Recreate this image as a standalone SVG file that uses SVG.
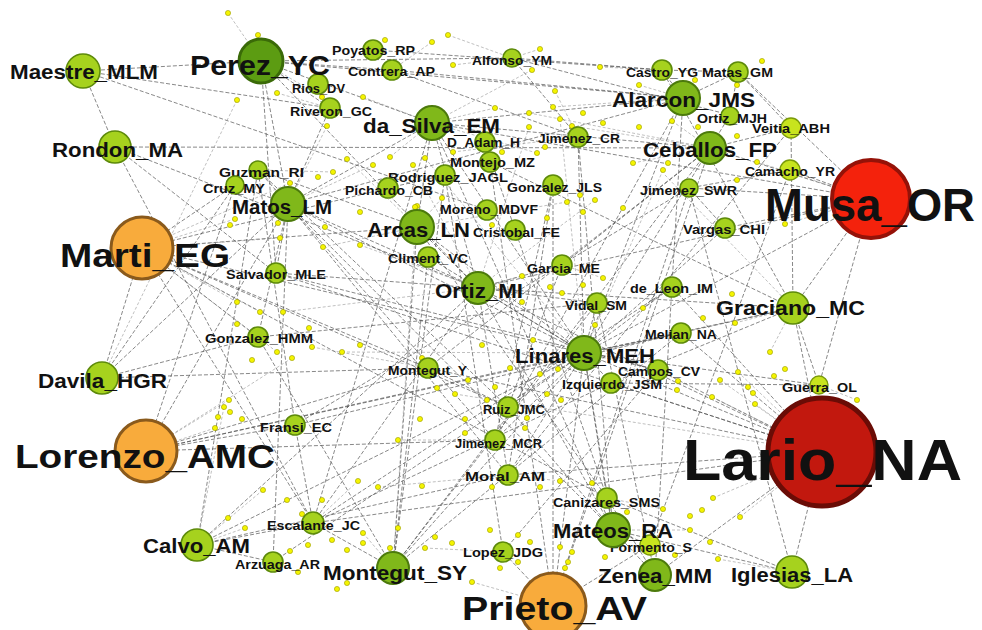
<svg xmlns="http://www.w3.org/2000/svg" width="982" height="630" viewBox="0 0 982 630">
<style>
.e{stroke:#555;stroke-width:0.7;stroke-dasharray:4 2;fill:none}
.f{stroke:#808080;stroke-width:0.5;stroke-dasharray:3 2;fill:none}
.d{fill:#f4f400;stroke:#9a9a00;stroke-width:0.6}
.n1{fill:#a6d21e;stroke:#5d8a0a;stroke-width:1.6}
.n2{fill:#80b81a;stroke:#4c7a0c;stroke-width:2}
.n3{fill:#5c9c12;stroke:#3a6a08;stroke-width:3}
.n4{fill:#c8e41e;stroke:#7a9a0a;stroke-width:1.4}
.o{fill:#f8ab3c;stroke:#8a5a1c;stroke-width:3}
.mu{fill:#f4220c;stroke:#951208;stroke-width:4}
.la{fill:#c2180e;stroke:#6a0c06;stroke-width:5}
text{font-family:"Liberation Sans",Arial,sans-serif;font-weight:bold;fill:#111}
.s{font-size:13px}.m{font-size:20px}.l{font-size:33px}
</style>
<rect width="982" height="630" fill="#fff"/>
<g id="connectors">
<line class="e" x1="83" y1="71" x2="261" y2="61"/>
<line class="e" x1="83" y1="71" x2="115" y2="147"/>
<line class="e" x1="83" y1="71" x2="487" y2="210"/>
<line class="e" x1="115" y1="147" x2="710" y2="148"/>
<line class="e" x1="115" y1="147" x2="313" y2="523"/>
<line class="e" x1="115" y1="147" x2="478" y2="288"/>
<line class="e" x1="115" y1="147" x2="276" y2="273"/>
<line class="e" x1="142" y1="248" x2="102" y2="378"/>
<line class="e" x1="142" y1="248" x2="235" y2="185"/>
<line class="e" x1="142" y1="248" x2="417" y2="227"/>
<line class="e" x1="142" y1="248" x2="584" y2="353"/>
<line class="e" x1="142" y1="248" x2="428" y2="368"/>
<line class="e" x1="142" y1="248" x2="508" y2="407"/>
<line class="e" x1="142" y1="248" x2="313" y2="523"/>
<line class="e" x1="142" y1="248" x2="607" y2="498"/>
<line class="e" x1="142" y1="248" x2="388" y2="188"/>
<line class="e" x1="142" y1="248" x2="258" y2="337"/>
<line class="e" x1="102" y1="378" x2="258" y2="337"/>
<line class="e" x1="102" y1="378" x2="235" y2="185"/>
<line class="e" x1="102" y1="378" x2="288" y2="204"/>
<line class="e" x1="146" y1="451" x2="295" y2="425"/>
<line class="e" x1="146" y1="451" x2="495" y2="440"/>
<line class="e" x1="146" y1="451" x2="428" y2="368"/>
<line class="e" x1="146" y1="451" x2="584" y2="353"/>
<line class="e" x1="146" y1="451" x2="288" y2="204"/>
<line class="e" x1="146" y1="451" x2="793" y2="308"/>
<line class="e" x1="197" y1="545" x2="258" y2="170"/>
<line class="e" x1="197" y1="545" x2="313" y2="523"/>
<line class="e" x1="197" y1="545" x2="584" y2="353"/>
<line class="e" x1="197" y1="545" x2="508" y2="475"/>
<line class="e" x1="273" y1="562" x2="288" y2="204"/>
<line class="e" x1="273" y1="562" x2="584" y2="353"/>
<line class="e" x1="313" y1="523" x2="478" y2="288"/>
<line class="e" x1="313" y1="523" x2="432" y2="123"/>
<line class="e" x1="393" y1="568" x2="584" y2="353"/>
<line class="e" x1="393" y1="568" x2="428" y2="257"/>
<line class="e" x1="393" y1="568" x2="445" y2="175"/>
<line class="e" x1="393" y1="568" x2="710" y2="148"/>
<line class="e" x1="393" y1="568" x2="258" y2="337"/>
<line class="e" x1="553" y1="605" x2="584" y2="353"/>
<line class="e" x1="553" y1="605" x2="710" y2="148"/>
<line class="e" x1="553" y1="605" x2="490" y2="162"/>
<line class="e" x1="553" y1="605" x2="553" y2="185"/>
<line class="e" x1="553" y1="605" x2="689" y2="188"/>
<line class="e" x1="553" y1="605" x2="650" y2="545"/>
<line class="e" x1="553" y1="605" x2="503" y2="552"/>
<line class="e" x1="655" y1="575" x2="822" y2="452"/>
<line class="e" x1="655" y1="575" x2="683" y2="98"/>
<line class="e" x1="655" y1="575" x2="607" y2="498"/>
<line class="e" x1="792" y1="572" x2="822" y2="452"/>
<line class="e" x1="792" y1="572" x2="613" y2="530"/>
<line class="e" x1="792" y1="572" x2="689" y2="188"/>
<line class="e" x1="822" y1="452" x2="584" y2="353"/>
<line class="e" x1="822" y1="452" x2="611" y2="383"/>
<line class="e" x1="822" y1="452" x2="508" y2="475"/>
<line class="e" x1="822" y1="452" x2="428" y2="368"/>
<line class="e" x1="822" y1="452" x2="478" y2="288"/>
<line class="e" x1="822" y1="452" x2="793" y2="308"/>
<line class="e" x1="822" y1="452" x2="313" y2="523"/>
<line class="e" x1="822" y1="452" x2="276" y2="273"/>
<line class="e" x1="822" y1="452" x2="672" y2="287"/>
<line class="e" x1="822" y1="452" x2="658" y2="370"/>
<line class="e" x1="822" y1="452" x2="681" y2="333"/>
<line class="e" x1="871" y1="199" x2="738" y2="72"/>
<line class="e" x1="871" y1="199" x2="790" y2="170"/>
<line class="e" x1="871" y1="199" x2="793" y2="308"/>
<line class="e" x1="871" y1="199" x2="819" y2="385"/>
<line class="e" x1="871" y1="199" x2="710" y2="148"/>
<line class="e" x1="871" y1="199" x2="725" y2="228"/>
<line class="e" x1="871" y1="199" x2="478" y2="288"/>
<line class="e" x1="871" y1="199" x2="584" y2="353"/>
<line class="e" x1="871" y1="199" x2="689" y2="188"/>
<line class="e" x1="793" y1="308" x2="478" y2="288"/>
<line class="e" x1="793" y1="308" x2="791" y2="128"/>
<line class="e" x1="793" y1="308" x2="662" y2="70"/>
<line class="e" x1="793" y1="308" x2="819" y2="385"/>
<line class="e" x1="793" y1="308" x2="490" y2="162"/>
<line class="e" x1="793" y1="308" x2="584" y2="353"/>
<line class="e" x1="793" y1="308" x2="611" y2="383"/>
<line class="e" x1="710" y1="148" x2="791" y2="128"/>
<line class="e" x1="710" y1="148" x2="730" y2="115"/>
<line class="e" x1="710" y1="148" x2="584" y2="353"/>
<line class="e" x1="710" y1="148" x2="562" y2="265"/>
<line class="e" x1="710" y1="148" x2="432" y2="123"/>
<line class="e" x1="683" y1="98" x2="432" y2="123"/>
<line class="e" x1="683" y1="98" x2="584" y2="353"/>
<line class="e" x1="683" y1="98" x2="662" y2="70"/>
<line class="e" x1="683" y1="98" x2="738" y2="72"/>
<line class="e" x1="683" y1="98" x2="288" y2="204"/>
<line class="e" x1="261" y1="61" x2="432" y2="123"/>
<line class="e" x1="261" y1="61" x2="392" y2="70"/>
<line class="e" x1="261" y1="61" x2="330" y2="108"/>
<line class="e" x1="261" y1="61" x2="683" y2="98"/>
<line class="e" x1="261" y1="61" x2="288" y2="204"/>
<line class="e" x1="261" y1="61" x2="478" y2="288"/>
<line class="e" x1="261" y1="61" x2="276" y2="273"/>
<line class="e" x1="261" y1="61" x2="512" y2="58"/>
<line class="e" x1="432" y1="123" x2="478" y2="288"/>
<line class="e" x1="432" y1="123" x2="584" y2="353"/>
<line class="e" x1="432" y1="123" x2="417" y2="227"/>
<line class="e" x1="432" y1="123" x2="288" y2="204"/>
<line class="e" x1="417" y1="227" x2="478" y2="288"/>
<line class="e" x1="417" y1="227" x2="584" y2="353"/>
<line class="e" x1="417" y1="227" x2="393" y2="568"/>
<line class="e" x1="417" y1="227" x2="258" y2="170"/>
<line class="e" x1="417" y1="227" x2="607" y2="498"/>
<line class="e" x1="478" y1="288" x2="584" y2="353"/>
<line class="e" x1="478" y1="288" x2="613" y2="530"/>
<line class="e" x1="478" y1="288" x2="508" y2="475"/>
<line class="e" x1="478" y1="288" x2="597" y2="303"/>
<line class="e" x1="478" y1="288" x2="562" y2="265"/>
<line class="e" x1="478" y1="288" x2="288" y2="204"/>
<line class="e" x1="478" y1="288" x2="197" y2="545"/>
<line class="e" x1="584" y1="353" x2="613" y2="530"/>
<line class="e" x1="584" y1="353" x2="508" y2="475"/>
<line class="e" x1="584" y1="353" x2="658" y2="370"/>
<line class="e" x1="584" y1="353" x2="611" y2="383"/>
<line class="e" x1="584" y1="353" x2="597" y2="303"/>
<line class="e" x1="584" y1="353" x2="681" y2="333"/>
<line class="e" x1="584" y1="353" x2="672" y2="287"/>
<line class="e" x1="584" y1="353" x2="495" y2="440"/>
<line class="e" x1="584" y1="353" x2="508" y2="407"/>
<line class="e" x1="584" y1="353" x2="288" y2="204"/>
<line class="e" x1="584" y1="353" x2="725" y2="228"/>
<line class="e" x1="613" y1="530" x2="607" y2="498"/>
<line class="e" x1="613" y1="530" x2="650" y2="545"/>
<line class="e" x1="613" y1="530" x2="655" y2="575"/>
<line class="e" x1="613" y1="530" x2="288" y2="204"/>
<line class="e" x1="613" y1="530" x2="432" y2="123"/>
<line class="e" x1="613" y1="530" x2="508" y2="407"/>
<line class="e" x1="613" y1="530" x2="578" y2="137"/>
<line class="e" x1="288" y1="204" x2="276" y2="273"/>
<line class="e" x1="288" y1="204" x2="258" y2="337"/>
<line class="e" x1="288" y1="204" x2="235" y2="185"/>
<line class="e" x1="288" y1="204" x2="258" y2="170"/>
<line class="e" x1="288" y1="204" x2="495" y2="440"/>
<line class="e" x1="288" y1="204" x2="508" y2="475"/>
<line class="e" x1="288" y1="204" x2="330" y2="108"/>
<line class="e" x1="662" y1="70" x2="738" y2="72"/>
<line class="e" x1="662" y1="70" x2="512" y2="58"/>
<line class="e" x1="662" y1="70" x2="373" y2="50"/>
<line class="e" x1="392" y1="70" x2="683" y2="98"/>
<line class="e" x1="392" y1="70" x2="578" y2="137"/>
<line class="e" x1="512" y1="58" x2="578" y2="137"/>
<line class="e" x1="512" y1="58" x2="730" y2="115"/>
<line class="e" x1="578" y1="137" x2="584" y2="353"/>
<line class="e" x1="553" y1="185" x2="508" y2="475"/>
<line class="e" x1="553" y1="185" x2="495" y2="440"/>
<line class="e" x1="562" y1="265" x2="508" y2="407"/>
<line class="e" x1="597" y1="303" x2="393" y2="568"/>
<line class="e" x1="672" y1="287" x2="313" y2="523"/>
<line class="e" x1="681" y1="333" x2="295" y2="425"/>
<line class="e" x1="658" y1="370" x2="503" y2="552"/>
<line class="e" x1="611" y1="383" x2="313" y2="523"/>
<line class="e" x1="428" y1="368" x2="710" y2="148"/>
<line class="e" x1="295" y1="425" x2="689" y2="188"/>
<line class="e" x1="258" y1="337" x2="597" y2="303"/>
<line class="e" x1="276" y1="273" x2="658" y2="370"/>
<line class="e" x1="508" y1="407" x2="258" y2="170"/>
<line class="e" x1="495" y1="440" x2="683" y2="98"/>
<line class="e" x1="508" y1="475" x2="791" y2="128"/>
<line class="e" x1="503" y1="552" x2="445" y2="175"/>
<line class="e" x1="607" y1="498" x2="485" y2="142"/>
<line class="e" x1="650" y1="545" x2="790" y2="170"/>
<line class="e" x1="655" y1="575" x2="597" y2="303"/>
<line class="e" x1="393" y1="568" x2="681" y2="333"/>
<line class="e" x1="102" y1="378" x2="428" y2="368"/>
<line class="e" x1="146" y1="451" x2="235" y2="185"/>
<line class="e" x1="197" y1="545" x2="273" y2="562"/>
<line class="e" x1="393" y1="568" x2="313" y2="523"/>
<line class="e" x1="689" y1="188" x2="725" y2="228"/>
<line class="e" x1="790" y1="170" x2="689" y2="188"/>
<line class="e" x1="791" y1="128" x2="738" y2="72"/>
<line class="e" x1="730" y1="115" x2="738" y2="72"/>
<line class="e" x1="83" y1="71" x2="330" y2="108"/>
<line class="e" x1="871" y1="199" x2="432" y2="123"/>
<line class="e" x1="819" y1="385" x2="584" y2="353"/>
<line class="e" x1="819" y1="385" x2="611" y2="383"/>
<line class="e" x1="792" y1="572" x2="607" y2="498"/>
<line class="e" x1="607" y1="498" x2="584" y2="353"/>
<line class="e" x1="428" y1="368" x2="508" y2="407"/>
<line class="e" x1="295" y1="425" x2="313" y2="523"/>
<line class="e" x1="295" y1="425" x2="258" y2="170"/>
<line class="e" x1="276" y1="273" x2="478" y2="288"/>
<line class="e" x1="428" y1="257" x2="584" y2="353"/>
<line class="e" x1="445" y1="175" x2="388" y2="188"/>
<line class="f" x1="228" y1="13" x2="261" y2="61"/>
<line class="f" x1="258" y1="35" x2="261" y2="61"/>
<line class="f" x1="237" y1="100" x2="102" y2="378"/>
<line class="f" x1="432" y1="42" x2="392" y2="70"/>
<line class="f" x1="448" y1="35" x2="512" y2="58"/>
<line class="f" x1="453" y1="65" x2="512" y2="58"/>
<line class="f" x1="277" y1="93" x2="330" y2="108"/>
<line class="f" x1="322" y1="97" x2="261" y2="61"/>
<line class="f" x1="363" y1="97" x2="432" y2="123"/>
<line class="f" x1="327" y1="126" x2="288" y2="204"/>
<line class="f" x1="347" y1="159" x2="417" y2="227"/>
<line class="f" x1="390" y1="157" x2="432" y2="123"/>
<line class="f" x1="373" y1="165" x2="288" y2="204"/>
<line class="f" x1="425" y1="158" x2="584" y2="353"/>
<line class="f" x1="413" y1="165" x2="478" y2="288"/>
<line class="f" x1="453" y1="152" x2="578" y2="137"/>
<line class="f" x1="333" y1="172" x2="258" y2="170"/>
<line class="f" x1="290" y1="183" x2="142" y2="248"/>
<line class="f" x1="442" y1="198" x2="417" y2="227"/>
<line class="f" x1="417" y1="206" x2="393" y2="568"/>
<line class="f" x1="540" y1="49" x2="512" y2="58"/>
<line class="f" x1="532" y1="70" x2="432" y2="123"/>
<line class="f" x1="600" y1="67" x2="662" y2="70"/>
<line class="f" x1="639" y1="85" x2="683" y2="98"/>
<line class="f" x1="555" y1="91" x2="578" y2="137"/>
<line class="f" x1="553" y1="107" x2="683" y2="98"/>
<line class="f" x1="529" y1="113" x2="710" y2="148"/>
<line class="f" x1="495" y1="108" x2="432" y2="123"/>
<line class="f" x1="560" y1="119" x2="584" y2="353"/>
<line class="f" x1="529" y1="127" x2="478" y2="288"/>
<line class="f" x1="572" y1="126" x2="710" y2="148"/>
<line class="f" x1="672" y1="121" x2="710" y2="148"/>
<line class="f" x1="537" y1="153" x2="432" y2="123"/>
<line class="f" x1="633" y1="163" x2="710" y2="148"/>
<line class="f" x1="663" y1="170" x2="584" y2="353"/>
<line class="f" x1="665" y1="175" x2="793" y2="308"/>
<line class="f" x1="595" y1="200" x2="478" y2="288"/>
<line class="f" x1="567" y1="202" x2="417" y2="227"/>
<line class="f" x1="757" y1="162" x2="871" y2="199"/>
<line class="f" x1="737" y1="180" x2="790" y2="170"/>
<line class="f" x1="235" y1="219" x2="142" y2="248"/>
<line class="f" x1="237" y1="302" x2="142" y2="248"/>
<line class="f" x1="229" y1="400" x2="146" y2="451"/>
<line class="f" x1="224" y1="407" x2="197" y2="545"/>
<line class="f" x1="280" y1="238" x2="142" y2="248"/>
<line class="f" x1="323" y1="247" x2="417" y2="227"/>
<line class="f" x1="360" y1="245" x2="478" y2="288"/>
<line class="f" x1="260" y1="312" x2="142" y2="248"/>
<line class="f" x1="283" y1="312" x2="478" y2="288"/>
<line class="f" x1="312" y1="347" x2="428" y2="368"/>
<line class="f" x1="342" y1="352" x2="584" y2="353"/>
<line class="f" x1="277" y1="352" x2="142" y2="248"/>
<line class="f" x1="292" y1="358" x2="146" y2="451"/>
<line class="f" x1="455" y1="394" x2="822" y2="452"/>
<line class="f" x1="522" y1="276" x2="478" y2="288"/>
<line class="f" x1="603" y1="278" x2="562" y2="265"/>
<line class="f" x1="643" y1="308" x2="672" y2="287"/>
<line class="f" x1="735" y1="323" x2="793" y2="308"/>
<line class="f" x1="540" y1="374" x2="584" y2="353"/>
<line class="f" x1="720" y1="380" x2="822" y2="452"/>
<line class="f" x1="712" y1="397" x2="822" y2="452"/>
<line class="f" x1="785" y1="224" x2="871" y2="199"/>
<line class="f" x1="770" y1="352" x2="793" y2="308"/>
<line class="f" x1="738" y1="372" x2="822" y2="452"/>
<line class="f" x1="755" y1="404" x2="822" y2="452"/>
<line class="f" x1="857" y1="400" x2="819" y2="385"/>
<line class="f" x1="215" y1="428" x2="146" y2="451"/>
<line class="f" x1="245" y1="528" x2="197" y2="545"/>
<line class="f" x1="398" y1="440" x2="495" y2="440"/>
<line class="f" x1="358" y1="481" x2="313" y2="523"/>
<line class="f" x1="378" y1="487" x2="508" y2="475"/>
<line class="f" x1="263" y1="490" x2="197" y2="545"/>
<line class="f" x1="363" y1="533" x2="393" y2="568"/>
<line class="f" x1="425" y1="548" x2="503" y2="552"/>
<line class="f" x1="472" y1="582" x2="553" y2="605"/>
<line class="f" x1="560" y1="481" x2="508" y2="475"/>
<line class="f" x1="663" y1="509" x2="607" y2="498"/>
<line class="f" x1="713" y1="498" x2="822" y2="452"/>
<line class="f" x1="690" y1="530" x2="613" y2="530"/>
<line class="f" x1="718" y1="559" x2="792" y2="572"/>
<line class="f" x1="740" y1="517" x2="822" y2="452"/>
</g>
<g id="minor-nodes">
<circle class="d" cx="228" cy="13" r="2.6"/><circle class="d" cx="237" cy="100" r="2.6"/><circle class="d" cx="258" cy="35" r="2.6"/><circle class="d" cx="385" cy="40" r="2.6"/><circle class="d" cx="432" cy="42" r="2.6"/><circle class="d" cx="448" cy="35" r="2.6"/><circle class="d" cx="453" cy="65" r="2.6"/><circle class="d" cx="277" cy="93" r="2.6"/><circle class="d" cx="322" cy="97" r="2.6"/><circle class="d" cx="363" cy="97" r="2.6"/><circle class="d" cx="327" cy="126" r="2.6"/><circle class="d" cx="347" cy="159" r="2.6"/><circle class="d" cx="390" cy="157" r="2.6"/><circle class="d" cx="373" cy="165" r="2.6"/><circle class="d" cx="425" cy="158" r="2.6"/><circle class="d" cx="413" cy="165" r="2.6"/><circle class="d" cx="453" cy="152" r="2.6"/><circle class="d" cx="333" cy="172" r="2.6"/><circle class="d" cx="318" cy="177" r="2.6"/><circle class="d" cx="290" cy="183" r="2.6"/><circle class="d" cx="442" cy="198" r="2.6"/><circle class="d" cx="417" cy="206" r="2.6"/>
<circle class="d" cx="540" cy="49" r="2.6"/><circle class="d" cx="532" cy="70" r="2.6"/><circle class="d" cx="600" cy="67" r="2.6"/><circle class="d" cx="639" cy="85" r="2.6"/><circle class="d" cx="555" cy="91" r="2.6"/><circle class="d" cx="553" cy="107" r="2.6"/><circle class="d" cx="583" cy="113" r="2.6"/><circle class="d" cx="529" cy="113" r="2.6"/><circle class="d" cx="495" cy="108" r="2.6"/><circle class="d" cx="560" cy="119" r="2.6"/><circle class="d" cx="603" cy="123" r="2.6"/><circle class="d" cx="529" cy="127" r="2.6"/><circle class="d" cx="572" cy="126" r="2.6"/><circle class="d" cx="639" cy="127" r="2.6"/><circle class="d" cx="672" cy="121" r="2.6"/><circle class="d" cx="698" cy="127" r="2.6"/><circle class="d" cx="545" cy="147" r="2.6"/><circle class="d" cx="537" cy="153" r="2.6"/><circle class="d" cx="502" cy="152" r="2.6"/><circle class="d" cx="633" cy="163" r="2.6"/><circle class="d" cx="668" cy="163" r="2.6"/><circle class="d" cx="663" cy="170" r="2.6"/><circle class="d" cx="695" cy="80" r="2.6"/><circle class="d" cx="737" cy="85" r="2.6"/><circle class="d" cx="580" cy="195" r="2.6"/><circle class="d" cx="595" cy="200" r="2.6"/><circle class="d" cx="567" cy="202" r="2.6"/>
<circle class="d" cx="762" cy="61" r="2.6"/><circle class="d" cx="737" cy="136" r="2.6"/><circle class="d" cx="757" cy="162" r="2.6"/><circle class="d" cx="737" cy="180" r="2.6"/>
<circle class="d" cx="235" cy="219" r="2.6"/><circle class="d" cx="230" cy="225" r="2.6"/><circle class="d" cx="237" cy="302" r="2.6"/><circle class="d" cx="237" cy="324" r="2.6"/><circle class="d" cx="229" cy="400" r="2.6"/><circle class="d" cx="224" cy="407" r="2.6"/><circle class="d" cx="230" cy="412" r="2.6"/>
<circle class="d" cx="278" cy="223" r="2.6"/><circle class="d" cx="280" cy="238" r="2.6"/><circle class="d" cx="325" cy="227" r="2.6"/><circle class="d" cx="323" cy="247" r="2.6"/><circle class="d" cx="360" cy="245" r="2.6"/><circle class="d" cx="360" cy="212" r="2.6"/><circle class="d" cx="415" cy="207" r="2.6"/><circle class="d" cx="260" cy="312" r="2.6"/><circle class="d" cx="283" cy="312" r="2.6"/><circle class="d" cx="309" cy="328" r="2.6"/><circle class="d" cx="312" cy="347" r="2.6"/><circle class="d" cx="342" cy="352" r="2.6"/><circle class="d" cx="360" cy="345" r="2.6"/><circle class="d" cx="277" cy="352" r="2.6"/><circle class="d" cx="292" cy="358" r="2.6"/><circle class="d" cx="252" cy="360" r="2.6"/><circle class="d" cx="422" cy="358" r="2.6"/><circle class="d" cx="468" cy="380" r="2.6"/><circle class="d" cx="437" cy="388" r="2.6"/><circle class="d" cx="455" cy="394" r="2.6"/><circle class="d" cx="487" cy="400" r="2.6"/><circle class="d" cx="482" cy="345" r="2.6"/><circle class="d" cx="492" cy="225" r="2.6"/>
<circle class="d" cx="583" cy="212" r="2.6"/><circle class="d" cx="623" cy="208" r="2.6"/><circle class="d" cx="547" cy="218" r="2.6"/><circle class="d" cx="522" cy="276" r="2.6"/><circle class="d" cx="603" cy="278" r="2.6"/><circle class="d" cx="583" cy="285" r="2.6"/><circle class="d" cx="550" cy="287" r="2.6"/><circle class="d" cx="562" cy="293" r="2.6"/><circle class="d" cx="522" cy="302" r="2.6"/><circle class="d" cx="643" cy="308" r="2.6"/><circle class="d" cx="595" cy="325" r="2.6"/><circle class="d" cx="533" cy="340" r="2.6"/><circle class="d" cx="703" cy="318" r="2.6"/><circle class="d" cx="735" cy="323" r="2.6"/><circle class="d" cx="732" cy="294" r="2.6"/><circle class="d" cx="510" cy="368" r="2.6"/><circle class="d" cx="540" cy="374" r="2.6"/><circle class="d" cx="558" cy="369" r="2.6"/><circle class="d" cx="495" cy="387" r="2.6"/><circle class="d" cx="547" cy="394" r="2.6"/><circle class="d" cx="561" cy="400" r="2.6"/><circle class="d" cx="678" cy="381" r="2.6"/><circle class="d" cx="720" cy="380" r="2.6"/><circle class="d" cx="677" cy="390" r="2.6"/><circle class="d" cx="712" cy="397" r="2.6"/>
<circle class="d" cx="785" cy="224" r="2.6"/><circle class="d" cx="770" cy="352" r="2.6"/><circle class="d" cx="785" cy="369" r="2.6"/><circle class="d" cx="774" cy="376" r="2.6"/><circle class="d" cx="738" cy="372" r="2.6"/><circle class="d" cx="748" cy="387" r="2.6"/><circle class="d" cx="753" cy="393" r="2.6"/><circle class="d" cx="755" cy="404" r="2.6"/><circle class="d" cx="857" cy="400" r="2.6"/>
<circle class="d" cx="215" cy="428" r="2.6"/><circle class="d" cx="228" cy="518" r="2.6"/><circle class="d" cx="245" cy="528" r="2.6"/><circle class="d" cx="218" cy="417" r="2.6"/><circle class="d" cx="242" cy="419" r="2.6"/>
<circle class="d" cx="420" cy="419" r="2.6"/><circle class="d" cx="465" cy="419" r="2.6"/><circle class="d" cx="398" cy="440" r="2.6"/><circle class="d" cx="465" cy="433" r="2.6"/><circle class="d" cx="358" cy="481" r="2.6"/><circle class="d" cx="378" cy="487" r="2.6"/><circle class="d" cx="422" cy="486" r="2.6"/><circle class="d" cx="263" cy="490" r="2.6"/><circle class="d" cx="287" cy="500" r="2.6"/><circle class="d" cx="322" cy="500" r="2.6"/><circle class="d" cx="302" cy="514" r="2.6"/><circle class="d" cx="363" cy="533" r="2.6"/><circle class="d" cx="398" cy="528" r="2.6"/><circle class="d" cx="332" cy="540" r="2.6"/><circle class="d" cx="308" cy="545" r="2.6"/><circle class="d" cx="290" cy="551" r="2.6"/><circle class="d" cx="347" cy="550" r="2.6"/><circle class="d" cx="363" cy="543" r="2.6"/><circle class="d" cx="390" cy="548" r="2.6"/><circle class="d" cx="425" cy="548" r="2.6"/><circle class="d" cx="435" cy="537" r="2.6"/><circle class="d" cx="452" cy="543" r="2.6"/><circle class="d" cx="492" cy="487" r="2.6"/><circle class="d" cx="490" cy="530" r="2.6"/><circle class="d" cx="472" cy="582" r="2.6"/><circle class="d" cx="347" cy="583" r="2.6"/><circle class="d" cx="337" cy="589" r="2.6"/><circle class="d" cx="298" cy="572" r="2.6"/>
<circle class="d" cx="527" cy="418" r="2.6"/><circle class="d" cx="525" cy="428" r="2.6"/><circle class="d" cx="560" cy="481" r="2.6"/><circle class="d" cx="592" cy="483" r="2.6"/><circle class="d" cx="540" cy="487" r="2.6"/><circle class="d" cx="663" cy="509" r="2.6"/><circle class="d" cx="627" cy="512" r="2.6"/><circle class="d" cx="713" cy="498" r="2.6"/><circle class="d" cx="702" cy="510" r="2.6"/><circle class="d" cx="690" cy="516" r="2.6"/><circle class="d" cx="690" cy="530" r="2.6"/><circle class="d" cx="710" cy="542" r="2.6"/><circle class="d" cx="518" cy="535" r="2.6"/><circle class="d" cx="530" cy="542" r="2.6"/><circle class="d" cx="560" cy="547" r="2.6"/><circle class="d" cx="572" cy="552" r="2.6"/><circle class="d" cx="605" cy="557" r="2.6"/><circle class="d" cx="675" cy="555" r="2.6"/><circle class="d" cx="718" cy="559" r="2.6"/><circle class="d" cx="568" cy="562" r="2.6"/><circle class="d" cx="565" cy="568" r="2.6"/><circle class="d" cx="518" cy="562" r="2.6"/><circle class="d" cx="500" cy="568" r="2.6"/><circle class="d" cx="740" cy="517" r="2.6"/>
</g>
<g id="n-Rios_DV"><circle class="n1" cx="318" cy="84" r="10"/><text class="s" x="292" y="93" textLength="53" lengthAdjust="spacingAndGlyphs">Rios_DV</text></g>
<g id="n-Riveron_GC"><circle class="n1" cx="330" cy="108" r="10"/><text class="s" x="290" y="116" textLength="82" lengthAdjust="spacingAndGlyphs">Riveron_GC</text></g>
<g id="n-Poyatos_RP"><circle class="n1" cx="373" cy="50" r="10"/><text class="s" x="332" y="55" textLength="83" lengthAdjust="spacingAndGlyphs">Poyatos_RP</text></g>
<g id="n-Contrera_AP"><circle class="n1" cx="392" cy="70" r="10"/><text class="s" x="348" y="76" textLength="87" lengthAdjust="spacingAndGlyphs">Contrera_AP</text></g>
<g id="n-Alfonso_YM"><circle class="n1" cx="512" cy="58" r="9"/><text class="s" x="472" y="65" textLength="80" lengthAdjust="spacingAndGlyphs">Alfonso_YM</text></g>
<g id="n-Castro_YG"><circle class="n1" cx="662" cy="70" r="10"/><text class="s" x="626" y="77" textLength="72" lengthAdjust="spacingAndGlyphs">Castro_YG</text></g>
<g id="n-Matas_GM"><circle class="n1" cx="738" cy="72" r="10"/><text class="s" x="702" y="77" textLength="71" lengthAdjust="spacingAndGlyphs">Matas_GM</text></g>
<g id="n-Ortiz_MJH"><circle class="n1" cx="730" cy="116" r="9"/><text class="s" x="697" y="123" textLength="70" lengthAdjust="spacingAndGlyphs">Ortiz_MJH</text></g>
<g id="n-Veitia_ABH"><circle class="n4" cx="791" cy="128" r="10"/><text class="s" x="752" y="133" textLength="78" lengthAdjust="spacingAndGlyphs">Veitia_ABH</text></g>
<g id="n-Camacho_YR"><circle class="n4" cx="790" cy="170" r="10"/><text class="s" x="745" y="176" textLength="90" lengthAdjust="spacingAndGlyphs">Camacho_YR</text></g>
<g id="n-Jimenez_SWR"><circle class="n1" cx="689" cy="188" r="9"/><text class="s" x="640" y="195" textLength="97" lengthAdjust="spacingAndGlyphs">Jimenez_SWR</text></g>
<g id="n-Guerra_OL"><circle class="n4" cx="819" cy="385" r="9"/><text class="s" x="782" y="392" textLength="75" lengthAdjust="spacingAndGlyphs">Guerra_OL</text></g>
<g id="n-Vargas_CHI"><circle class="n1" cx="725" cy="228" r="10"/><text class="s" x="683" y="234" textLength="82" lengthAdjust="spacingAndGlyphs">Vargas_CHI</text></g>
<g id="n-de_Leon_IM"><circle class="n1" cx="672" cy="287" r="10"/><text class="s" x="630" y="293" textLength="83" lengthAdjust="spacingAndGlyphs">de_Leon_IM</text></g>
<g id="n-Melian_NA"><circle class="n1" cx="681" cy="333" r="10"/><text class="s" x="645" y="339" textLength="72" lengthAdjust="spacingAndGlyphs">Melian_NA</text></g>
<g id="n-Garcia_ME"><circle class="n1" cx="562" cy="265" r="10"/><text class="s" x="527" y="273" textLength="73" lengthAdjust="spacingAndGlyphs">Garcia_ME</text></g>
<g id="n-Vidal_SM"><circle class="n1" cx="597" cy="303" r="10"/><text class="s" x="565" y="310" textLength="62" lengthAdjust="spacingAndGlyphs">Vidal_SM</text></g>
<g id="n-Campos_CV"><circle class="n1" cx="658" cy="370" r="10"/><text class="s" x="618" y="376" textLength="82" lengthAdjust="spacingAndGlyphs">Campos_CV</text></g>
<g id="n-Izquierdo_JSM"><circle class="n1" cx="611" cy="383" r="10"/><text class="s" x="562" y="389" textLength="100" lengthAdjust="spacingAndGlyphs">Izquierdo_JSM</text></g>
<g id="n-Ruiz_JMC"><circle class="n1" cx="508" cy="407" r="10"/><text class="s" x="483" y="414" textLength="62" lengthAdjust="spacingAndGlyphs">Ruiz_JMC</text></g>
<g id="n-Cristobal_FE"><circle class="n1" cx="515" cy="230" r="10"/><text class="s" x="473" y="237" textLength="87" lengthAdjust="spacingAndGlyphs">Cristobal_FE</text></g>
<g id="n-Moreno_MDVF"><circle class="n1" cx="487" cy="210" r="10"/><text class="s" x="440" y="214" textLength="98" lengthAdjust="spacingAndGlyphs">Moreno_MDVF</text></g>
<g id="n-Climent_VC"><circle class="n1" cx="428" cy="257" r="10"/><text class="s" x="388" y="263" textLength="80" lengthAdjust="spacingAndGlyphs">Climent_VC</text></g>
<g id="n-Salvador_MLE"><circle class="n1" cx="276" cy="273" r="10"/><text class="s" x="226" y="279" textLength="100" lengthAdjust="spacingAndGlyphs">Salvador_MLE</text></g>
<g id="n-Gonzalez_HMM"><circle class="n1" cx="258" cy="337" r="10"/><text class="s" x="205" y="343" textLength="108" lengthAdjust="spacingAndGlyphs">Gonzalez_HMM</text></g>
<g id="n-Montegut_Y"><circle class="n1" cx="428" cy="368" r="10"/><text class="s" x="388" y="375" textLength="79" lengthAdjust="spacingAndGlyphs">Montegut_Y</text></g>
<g id="n-Guzman_RI"><circle class="n1" cx="258" cy="170" r="9"/><text class="s" x="219" y="177" textLength="85" lengthAdjust="spacingAndGlyphs">Guzman_RI</text></g>
<g id="n-Cruz_MY"><circle class="n1" cx="235" cy="185" r="9"/><text class="s" x="203" y="193" textLength="62" lengthAdjust="spacingAndGlyphs">Cruz_MY</text></g>
<g id="n-D_Adam_H"><circle class="n1" cx="485" cy="142" r="10"/><text class="s" x="447" y="147" textLength="73" lengthAdjust="spacingAndGlyphs">D_Adam_H</text></g>
<g id="n-Montejo_MZ"><circle class="n1" cx="490" cy="162" r="10"/><text class="s" x="450" y="167" textLength="85" lengthAdjust="spacingAndGlyphs">Montejo_MZ</text></g>
<g id="n-Rodriguez_JAGL"><circle class="n1" cx="445" cy="175" r="10"/><text class="s" x="388" y="182" textLength="120" lengthAdjust="spacingAndGlyphs">Rodriguez_JAGL</text></g>
<g id="n-Pichardo_CB"><circle class="n1" cx="388" cy="188" r="10"/><text class="s" x="345" y="195" textLength="88" lengthAdjust="spacingAndGlyphs">Pichardo_CB</text></g>
<g id="n-Jimenez_CR"><circle class="n1" cx="578" cy="137" r="10"/><text class="s" x="538" y="143" textLength="82" lengthAdjust="spacingAndGlyphs">Jimenez_CR</text></g>
<g id="n-Gonzalez_JLS"><circle class="n1" cx="553" cy="185" r="10"/><text class="s" x="507" y="192" textLength="95" lengthAdjust="spacingAndGlyphs">Gonzalez_JLS</text></g>
<g id="n-Arzuaga_AR"><circle class="n1" cx="273" cy="562" r="10"/><text class="s" x="235" y="569" textLength="85" lengthAdjust="spacingAndGlyphs">Arzuaga_AR</text></g>
<g id="n-Fransi_EC"><circle class="n1" cx="295" cy="425" r="10"/><text class="s" x="260" y="432" textLength="72" lengthAdjust="spacingAndGlyphs">Fransi_EC</text></g>
<g id="n-Escalante_JC"><circle class="n1" cx="313" cy="523" r="11"/><text class="s" x="267" y="530" textLength="93" lengthAdjust="spacingAndGlyphs">Escalante_JC</text></g>
<g id="n-Jimenez_MCR"><circle class="n1" cx="495" cy="440" r="10"/><text class="s" x="455" y="448" textLength="87" lengthAdjust="spacingAndGlyphs">Jimenez_MCR</text></g>
<g id="n-Moral_AM"><circle class="n1" cx="508" cy="475" r="10"/><text class="s" x="465" y="481" textLength="80" lengthAdjust="spacingAndGlyphs">Moral_AM</text></g>
<g id="n-Canizares_SMS"><circle class="n1" cx="607" cy="498" r="10"/><text class="s" x="553" y="507" textLength="107" lengthAdjust="spacingAndGlyphs">Canizares_SMS</text></g>
<g id="n-Formento_S"><circle class="n4" cx="650" cy="545" r="10"/><text class="s" x="610" y="552" textLength="82" lengthAdjust="spacingAndGlyphs">Formento_S</text></g>
<g id="n-Lopez_JDG"><circle class="n1" cx="503" cy="552" r="10"/><text class="s" x="463" y="557" textLength="80" lengthAdjust="spacingAndGlyphs">Lopez_JDG</text></g>
<g id="n-Maestre_MLM"><circle class="n1" cx="83" cy="71" r="17"/><text class="m" x="10" y="79" textLength="148" lengthAdjust="spacingAndGlyphs">Maestre_MLM</text></g>
<g id="n-Rondon_MA"><circle class="n1" cx="115" cy="147" r="16"/><text class="m" x="52" y="157" textLength="131" lengthAdjust="spacingAndGlyphs">Rondon_MA</text></g>
<g id="n-Davila_HGR"><circle class="n1" cx="102" cy="378" r="16"/><text class="m" x="38" y="388" textLength="129" lengthAdjust="spacingAndGlyphs">Davila_HGR</text></g>
<g id="n-Calvo_AM"><circle class="n1" cx="197" cy="545" r="16"/><text class="m" x="143" y="553" textLength="107" lengthAdjust="spacingAndGlyphs">Calvo_AM</text></g>
<g id="n-Graciano_MC"><circle class="n1" cx="793" cy="308" r="16"/><text class="m" x="716" y="315" textLength="149" lengthAdjust="spacingAndGlyphs">Graciano_MC</text></g>
<g id="n-Iglesias_LA"><circle class="n1" cx="792" cy="572" r="16"/><text class="m" x="731" y="582" textLength="122" lengthAdjust="spacingAndGlyphs">Iglesias_LA</text></g>
<g id="n-Alarcon_JMS"><circle class="n2" cx="683" cy="98" r="17"/><text class="m" x="612" y="107" textLength="143" lengthAdjust="spacingAndGlyphs">Alarcon_JMS</text></g>
<g id="n-Ceballos_FP"><circle class="n2" cx="710" cy="148" r="16"/><text class="m" x="643" y="157" textLength="134" lengthAdjust="spacingAndGlyphs">Ceballos_FP</text></g>
<g id="n-Linares_MEH"><circle class="n2" cx="584" cy="353" r="17"/><text class="m" x="515" y="363" textLength="140" lengthAdjust="spacingAndGlyphs">Linares_MEH</text></g>
<g id="n-Ortiz_MI"><circle class="n2" cx="478" cy="288" r="16"/><text class="m" x="435" y="298" textLength="88" lengthAdjust="spacingAndGlyphs">Ortiz_MI</text></g>
<g id="n-Arcas_LN"><circle class="n2" cx="417" cy="227" r="17"/><text class="m" x="367" y="237" textLength="103" lengthAdjust="spacingAndGlyphs">Arcas_LN</text></g>
<g id="n-Matos_LM"><circle class="n2" cx="288" cy="204" r="17"/><text class="m" x="232" y="214" textLength="100" lengthAdjust="spacingAndGlyphs">Matos_LM</text></g>
<g id="n-da_Silva_EM"><circle class="n2" cx="432" cy="123" r="17"/><text class="m" x="363" y="133" textLength="137" lengthAdjust="spacingAndGlyphs">da_Silva_EM</text></g>
<g id="n-Montegut_SY"><circle class="n2" cx="393" cy="568" r="16"/><text class="m" x="323" y="580" textLength="144" lengthAdjust="spacingAndGlyphs">Montegut_SY</text></g>
<g id="n-Mateos_RA"><circle class="n2" cx="613" cy="530" r="17"/><text class="m" x="553" y="538" textLength="120" lengthAdjust="spacingAndGlyphs">Mateos_RA</text></g>
<g id="n-Zenea_MM"><circle class="n2" cx="655" cy="575" r="16"/><text class="m" x="598" y="583" textLength="114" lengthAdjust="spacingAndGlyphs">Zenea_MM</text></g>
<g id="n-Perez_YC"><circle class="n3" cx="261" cy="61" r="22"/><text x="190" y="75" font-size="28" textLength="140" lengthAdjust="spacingAndGlyphs">Perez_YC</text></g>
<g id="n-Marti_EG"><circle class="o" cx="142" cy="248" r="31"/><text class="l" x="60" y="267" textLength="170" lengthAdjust="spacingAndGlyphs">Marti_EG</text></g>
<g id="n-Lorenzo_AMC"><circle class="o" cx="146" cy="451" r="31"/><text class="l" x="15" y="468" textLength="260" lengthAdjust="spacingAndGlyphs">Lorenzo_AMC</text></g>
<g id="n-Prieto_AV"><circle class="o" cx="553" cy="606" r="33"/><text class="l" x="462" y="620" textLength="185" lengthAdjust="spacingAndGlyphs">Prieto_AV</text></g>
<g id="n-Musa_OR"><circle class="mu" cx="871" cy="199" r="39"/><text x="765" y="221" font-size="46" textLength="210" lengthAdjust="spacingAndGlyphs">Musa_OR</text></g>
<g id="n-Lario_NA"><circle class="la" cx="822" cy="452" r="54"/><text x="683" y="480" font-size="58" textLength="279" lengthAdjust="spacingAndGlyphs">Lario_NA</text></g>
</svg>
